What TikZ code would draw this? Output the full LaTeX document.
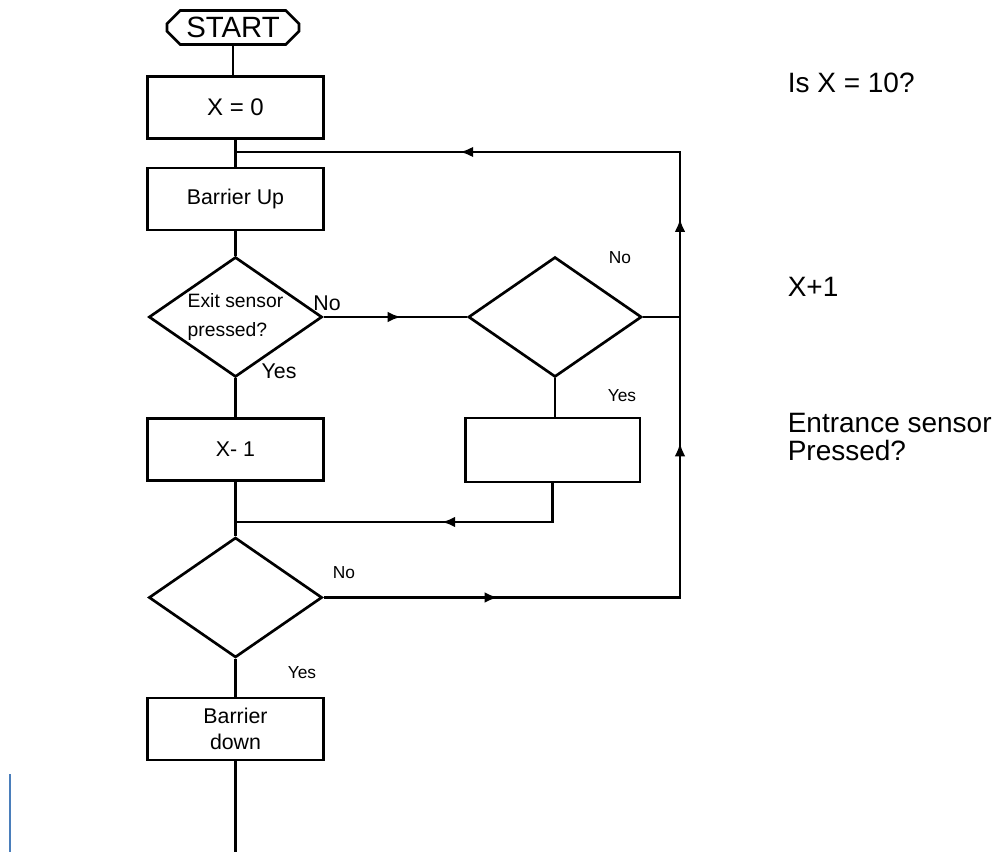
\documentclass[tikz,border=0pt]{standalone}
\usepackage{fontspec}
\setmainfont{Liberation Sans}
\usetikzlibrary{positioning,shapes.geometric,shapes.misc,arrows.meta,decorations.markings}

\definecolor{caretblue}{RGB}{74,126,187}
\newcommand{\flowtip}{\arrow{Latex[length=10pt,width=8pt]}}

\begin{document}
\begin{tikzpicture}[
			x=0.75pt, y=-0.75pt, line width=2pt,
			procbox/.style={rectangle, draw, minimum width=132pt, minimum height=46.5pt, align=center, inner sep=0pt, font=\fontsize{16}{19}\selectfont},
			decbox/.style={diamond, draw, minimum width=130pt, minimum height=90pt, aspect=1.4, inner sep=0pt},
			termbox/.style={chamfered rectangle, chamfered rectangle xsep=5pt, chamfered rectangle ysep=5pt, draw, minimum width=99pt, minimum height=23pt, inner sep=0pt, font=\fontsize{22}{22}\selectfont},
			yn/.style={font=\fontsize{13}{15}\selectfont},
			ynbig/.style={font=\fontsize{16}{18}\selectfont},
			note/.style={anchor=base west, align=left, font=\fontsize{21}{21}\selectfont},
			flow/.style={decoration={markings, mark=at position #1 with {\flowtip}}, postaction={decorate}},
			loopflow/.style={decoration={markings,
					mark=at position 0.14 with {\flowtip},
					mark=at position 0.41 with {\flowtip},
					mark=at position 0.59 with {\flowtip},
					mark=at position 0.82 with {\flowtip}}, postaction={decorate}},
			caret/.style={draw=caretblue, line width=1.5pt},
		]
		\useasboundingbox (0,0) rectangle (1000,852);

		\node[termbox] (start) at (233,27.5) {START};
		\node[procbox, font=\fontsize{18}{20}\selectfont] (init) at (235.5,107.5) {X = 0};
		\node[procbox] (bup) at (235.5,199) {Barrier Up};
		\node[decbox, align=left, font=\fontsize{14.5}{22}\selectfont] (exit) at (235.5,317) {Exit sensor\\pressed?};
		\node[decbox] (entr) at (555,317) {};
		\node[procbox] (dec) at (235.5,449.5) {X- 1};
		\node[procbox, minimum width=131pt, minimum height=48pt] (inc) at (552.5,450) {};
		\node[decbox] (full) at (235.5,597.5) {};
		\node[procbox] (bdown) at (235.5,729) {Barrier\\down};

		\coordinate (jtop) at (235.5,152);
		\coordinate (jmid) at (235.5,522);
		\coordinate (rtop) at (680,152);
		\coordinate (rmid) at (680,317);
		\coordinate (rbot) at (680,597.5);
		\coordinate (tail) at (235.5,852);

		% main trunk
		\draw (start.south) -- (start.south |- init.north);
		\draw (init) -- (bup);
		\draw (bup) -- (exit);
		\draw (exit) -- (dec);
		\draw (dec) -- (full);
		\draw (full) -- (bdown);
		\draw (bdown) -- (tail);

		% entrance branch and loop back
		\draw[flow=0.54] (exit) -- (entr);
		\draw (entr.south) -- (entr.south |- inc.north);
		\draw (entr.east) -- (rmid);
		\draw[flow=0.42] (inc.south) |- (jmid);
		\draw[loopflow] (full) -- (rbot) -- (rtop) -- (jtop);

		\node[ynbig] (exitno) at (327,303) {No};
		\node[ynbig] (exityes) at (279,371) {Yes};
		\node[yn] (entrno) at (620,258) {No};
		\node[yn] (entryes) at (622,396) {Yes};
		\node[yn] (fullno) at (344,573) {No};
		\node[yn] (fullyes) at (302,673) {Yes};

		\node[note] (qfull) at (782,93) {Is X = 10?};
		\node[note] (qinc) at (782,297) {X+1};
		\node[note] (qentr) at (782,460) {Entrance sensor\\Pressed?};

		\draw[caret] (10,774) -- (10,852);

	\end{tikzpicture}
\end{document}
